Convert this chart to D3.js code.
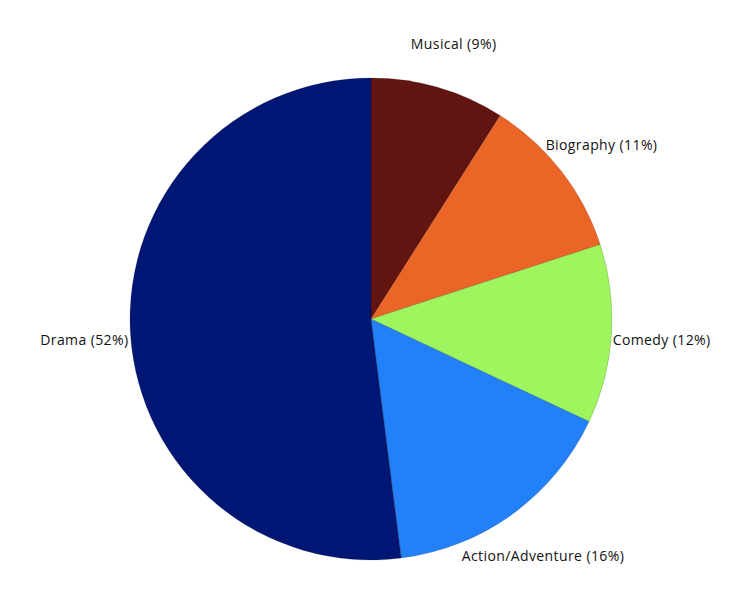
<!DOCTYPE html>
<html>
<head>
<meta charset="utf-8">
<script src="https://cdn.jsdelivr.net/npm/d3@7"></script>
<style>
  body { margin: 0; background: #fff; }
  .label { font-family: "Open Sans", sans-serif; font-size: 14px; font-weight: 500; letter-spacing: 0.4px; fill: #111; }
</style>
</head>
<body>
<div class="chart-svg"></div>
<script>
var genres = ["Musical", "Biography", "Comedy", "Action/Adventure", "Drama"];
var shares = [9, 11, 12, 16, 52];
var colors = ["#611410", "#eb6626", "#9ef55d", "#2280f9", "#001675"];

window.onload = function(){
    var svgWidth = 750;
    var svgHeight = 601;
    var cx = 371, cy = 319, radius = 241;

    var svg = d3.select(".chart-svg")
            .append("svg")
            .attr("width", svgWidth)
            .attr("height", svgHeight);

    var data = genres.map(function(g, i){
        return {name: g, value: shares[i], color: colors[i]};
    });

    var pie = d3.pie()
        .sort(null)
        .value(function(d){ return d.value; });

    var arc = d3.arc()
        .innerRadius(0)
        .outerRadius(radius);

    // labels sit at 1.2x radius, centred on the slice's mid angle
    var labelArc = d3.arc()
        .innerRadius(radius * 1.2)
        .outerRadius(radius * 1.2);

    var plot = svg.append("g")
        .attr("transform", "translate(" + cx + "," + cy + ")");

    var slices = pie(data);

    plot.selectAll("path")
        .data(slices)
        .enter()
        .append("path")
        .attr("d", arc)
        .attr("fill", function(d){ return d.data.color; })
        .attr("stroke", "rgba(0,0,0,0.25)")
        .attr("stroke-width", 0.6);

    plot.selectAll("text")
        .data(slices)
        .enter()
        .append("text")
        .attr("class", "label")
        .attr("transform", function(d){
            var c = labelArc.centroid(d);
            return "translate(" + (c[0] + 2) + "," + (c[1] + 1) + ")";
        })
        .attr("text-anchor", "middle")
        .attr("dy", "0.5em")
        .text(function(d){ return d.data.name + " (" + d.data.value + "%)"; });
};
</script>
</body>
</html>
